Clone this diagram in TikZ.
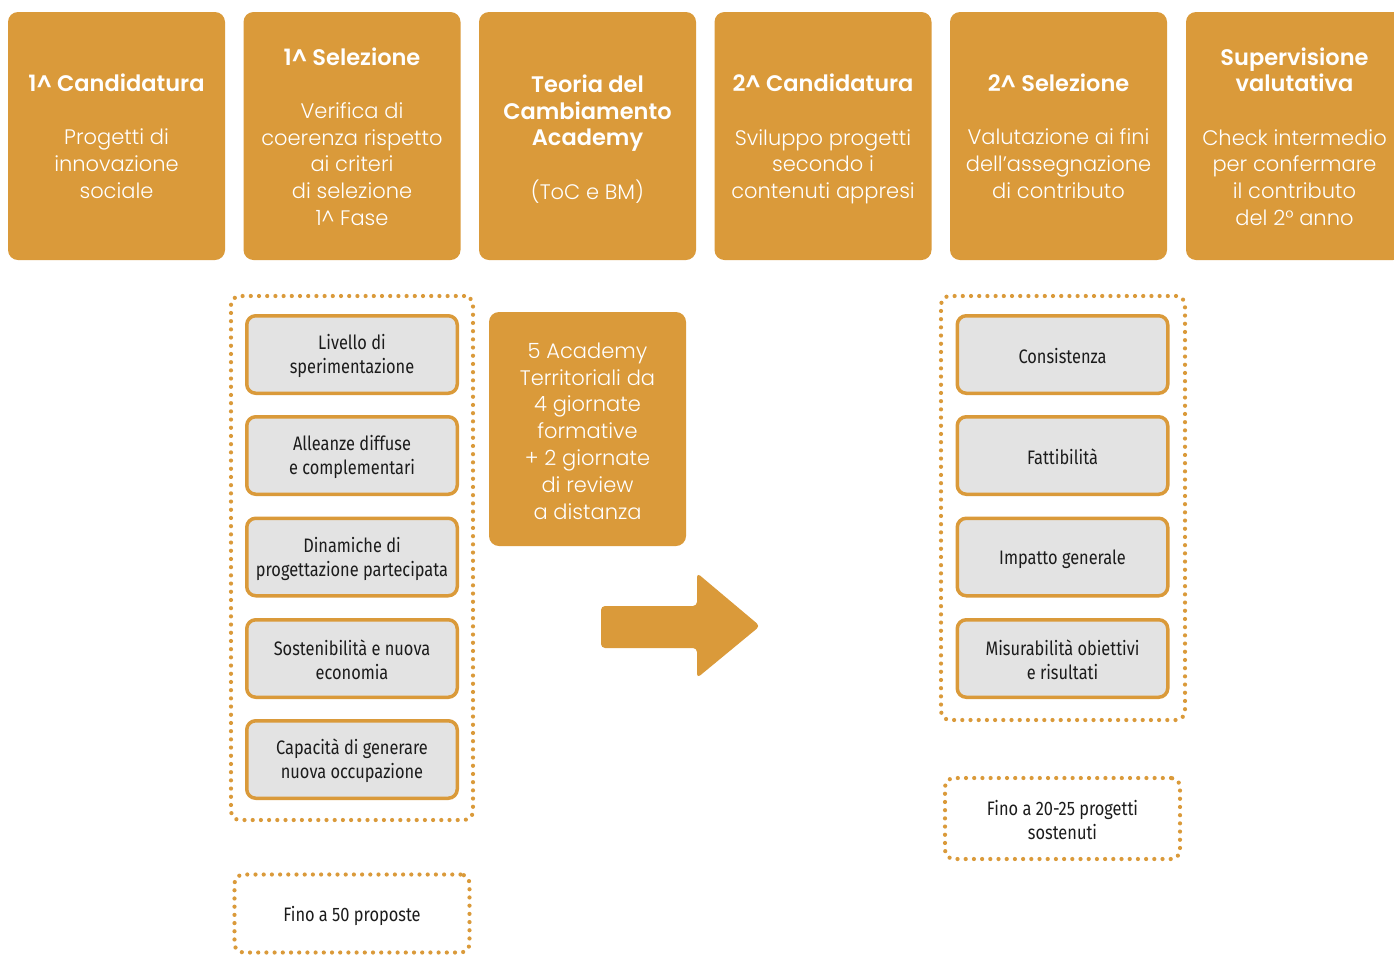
\documentclass[tikz,border=0pt]{standalone}
\usepackage{fontspec}
\setmainfont{Poppins}[UprightFont=* Light, BoldFont=* SemiBold]
\newfontfamily\condf{Fira Sans}[FakeStretch=0.84]
\definecolor{orng}{HTML}{DA9A3A}
\definecolor{greyf}{HTML}{E3E3E3}
\definecolor{txtd}{HTML}{1C1C1C}
\newcommand{\hd}[1]{{\fontsize{22.5}{26.7}\selectfont\bfseries #1}}
\tikzset{
  topbox/.style={fill=orng, draw=none, rounded corners=10pt, minimum width=217pt, minimum height=248pt, inner sep=0pt},
  toptext/.style={align=center, text=white, inner sep=0pt, font=\fontsize{21}{26.7}\selectfont},
  critbox/.style={fill=greyf, draw=orng, line width=3.5pt, rounded corners=9pt, minimum width=210.5pt, minimum height=77.5pt, inner sep=0pt},
  crittext/.style={align=center, text=txtd, inner sep=0pt, font=\condf\fontsize{19.5}{24}\selectfont},
  dotbox/.style={draw=orng, line width=4.2pt, dash pattern=on 0pt off 8.2pt, line cap=round, rounded corners=9pt, inner sep=0pt, align=center, text=txtd, font=\condf\fontsize{19.5}{24}\selectfont},
  midbox/.style={fill=orng, rounded corners=10pt, minimum width=197pt, minimum height=234pt, inner sep=0pt},
}
\begin{document}
\begin{tikzpicture}[x=1pt,y=-1pt]
\useasboundingbox (0,0) rectangle (1394,954);
% top row
\node[topbox] (t1) at (116.5,136) {};
\node[topbox] (t2) at (352,136) {};
\node[topbox] (t3) at (587.5,136) {};
\node[topbox] (t4) at (823,136) {};
\node[topbox] (t5) at (1058.5,136) {};
\node[topbox] (t6) at (1294.5,136) {};
\node[toptext] (t1x) at (116.5,136) {\hd{1\textasciicircum{} Candidatura}\\[26.7pt]Progetti di\\innovazione\\sociale};
\node[toptext] (t2x) at (352,136.5) {\hd{1\textasciicircum{} Selezione}\\[26.7pt]Verifica di\\coerenza rispetto\\ai criteri\\di selezione\\1\textasciicircum{} Fase};
\node[toptext] (t3x) at (587.5,139) {\hd{Teoria del}\\\hd{Cambiamento}\\\hd{Academy}\\[26.7pt](ToC e BM)};
\node[toptext] (t4x) at (823,139) {\hd{2\textasciicircum{} Candidatura}\\[26.7pt]Sviluppo progetti\\secondo i\\contenuti appresi};
\node[toptext] (t5x) at (1058.5,136) {\hd{2\textasciicircum{} Selezione}\\[26.7pt]Valutazione ai fini\\dell’assegnazione\\di contributo};
\node[toptext] (t6x) at (1294.5,136.5) {\hd{Supervisione}\\\hd{valutativa}\\[26.7pt]Check intermedio\\per confermare\\il contributo\\del 2° anno};
% left container
\node[dotbox, minimum width=242pt, minimum height=524pt] (lc) at (352,558) {};
\node[critbox] (l1) at (352,354.5) {};
\node[critbox] (l2) at (352,455.5) {};
\node[critbox] (l3) at (352,557) {};
\node[critbox] (l4) at (352,658.5) {};
\node[critbox] (l5) at (352,759.5) {};
\node[crittext] (l1x) at (352,356) {Livello di\\sperimentazione};
\node[crittext] (l2x) at (352,457) {Alleanze diffuse\\e complementari};
\node[crittext] (l3x) at (352,559) {Dinamiche di\\progettazione partecipata};
\node[crittext] (l4x) at (352,660) {Sostenibilità e nuova\\economia};
\node[crittext] (l5x) at (352,761) {Capacità di generare\\nuova occupazione};
\node[dotbox, minimum width=235pt, minimum height=78pt] (lb) at (352,913.5) {};
\node[crittext] (lbx) at (352,916) {Fino a 50 proposte};
% middle
\node[midbox] (mid) at (587.5,429) {};
\node[toptext, font=\fontsize{21}{26.8}\selectfont] (midx) at (587.5,431) {5 Academy\\Territoriali da\\4 giornate\\formative\\+ 2 giornate\\di review\\a distanza};
\fill[orng, rounded corners=4pt] (601,606) -- (697,606) -- (697,573) -- (760,626) -- (697,678) -- (697,648) -- (601,648) -- cycle;
% right container
\node[dotbox, minimum width=244pt, minimum height=424pt] (rc) at (1063,508) {};
\node[critbox] (r1) at (1062.5,354.5) {};
\node[critbox] (r2) at (1062.5,455.5) {};
\node[critbox] (r3) at (1062.5,557) {};
\node[critbox] (r4) at (1062.5,658.5) {};
\node[crittext] (r1x) at (1062.5,356) {Consistenza};
\node[crittext] (r2x) at (1062.5,457) {Fattibilità};
\node[crittext] (r3x) at (1062.5,559) {Impatto generale};
\node[crittext] (r4x) at (1062.5,660) {Misurabilità obiettivi\\e risultati};
\node[dotbox, minimum width=235pt, minimum height=81pt] (rb) at (1062.5,818.5) {};
\node[crittext] (rbx) at (1062.5,820) {Fino a 20-25 progetti\\sostenuti};
\end{tikzpicture}
\end{document}
